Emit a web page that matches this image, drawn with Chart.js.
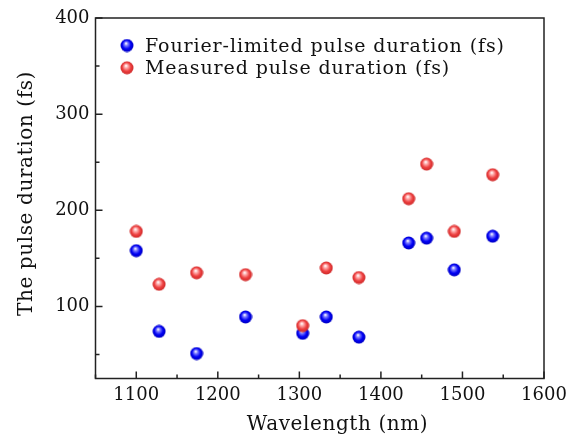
<!DOCTYPE html>
<html>
<head>
<meta charset="utf-8">
<script src="https://cdn.jsdelivr.net/npm/chart.js@4.4.1/dist/chart.umd.min.js"></script>
<style>
  html, body { margin: 0; padding: 0; background: #fff; }
  #wrap { width: 582px; height: 439px; }
</style>
</head>
<body>
<div id="wrap"><canvas id="chartPulse"></canvas></div>
<script>
var wavelengths = [1100, 1128, 1174, 1234, 1304, 1333, 1373, 1434, 1456, 1490, 1537];
var fourierLimited = [158, 74, 51, 89, 72, 89, 68, 166, 171, 138, 173];
var measured = [178, 123, 135, 133, 80, 140, 130, 212, 248, 178, 237];

var seriesLabels = ["Fourier-limited pulse duration (fs)", "Measured pulse duration (fs)"];
var xTitle = "Wavelength (nm)";
var yTitle = "The pulse duration (fs)";

var serif = "'DejaVu Serif', 'Liberation Serif', serif";

function makeBall(light, base, dark) {
    var c = document.createElement('canvas');
    c.width = 14;
    c.height = 14;
    var g = c.getContext('2d');
    var grad = g.createRadialGradient(6, 4.8, 0.3, 7, 7, 7);
    grad.addColorStop(0, '#ffffff');
    grad.addColorStop(0.22, light);
    grad.addColorStop(0.6, base);
    grad.addColorStop(1, dark);
    g.fillStyle = grad;
    g.beginPath();
    g.arc(7, 7, 6.5, 0, 2 * Math.PI);
    g.fill();
    return c;
}

var blueBall = makeBall('#8080ff', '#0000f5', '#0000b8');
var redBall = makeBall('#ffb0b0', '#ee4040', '#c82626');

function toPoints(xs, ys) {
    return xs.map(function (x, i) { return { x: x, y: ys[i] }; });
}

// inward ticks, box frame, legend and axis titles
var decor = {
    id: 'decor',
    afterDraw: function (chart) {
        var ctx = chart.ctx;
        var a = chart.chartArea;
        var xs = chart.scales.x;
        var ys = chart.scales.y;
        ctx.save();
        ctx.strokeStyle = '#222';
        ctx.lineWidth = 1.5;
        ctx.strokeRect(a.left, a.top, a.right - a.left, a.bottom - a.top);

        ctx.beginPath();
        xs.ticks.forEach(function (t) {
            if (t.value % 50 !== 0) return;
            var px = xs.getPixelForValue(t.value);
            var len = t.value % 100 === 0 ? 7 : 4;
            ctx.moveTo(px, a.bottom);
            ctx.lineTo(px, a.bottom - len);
        });
        ys.ticks.forEach(function (t) {
            if (t.value % 50 !== 0) return;
            var py = ys.getPixelForValue(t.value);
            var len = t.value % 100 === 0 ? 7 : 4;
            ctx.moveTo(a.left, py);
            ctx.lineTo(a.left + len, py);
        });
        ctx.stroke();

        // legend
        var balls = [blueBall, redBall];
        ctx.font = "19px " + serif;
        ctx.letterSpacing = '0.9px';
        ctx.fillStyle = '#111';
        ctx.textAlign = 'left';
        ctx.textBaseline = 'alphabetic';
        seriesLabels.forEach(function (label, i) {
            var cy = 45.5 + i * 22.3;
            ctx.drawImage(balls[i], 127 - 7, cy - 7);
            ctx.fillText(label, 145, cy + 6.5);
        });

        // axis titles
        ctx.font = "20px " + serif;
        ctx.letterSpacing = '0.6px';
        ctx.textAlign = 'center';
        ctx.fillText(xTitle, 337.5, 430);
        ctx.translate(32, 193.5);
        ctx.rotate(-Math.PI / 2);
        ctx.fillText(yTitle, 0, 0);
        ctx.restore();
    }
};

var ctx = document.getElementById('chartPulse').getContext('2d');
var pulseChart = new Chart(ctx, {
    type: 'scatter',
    data: {
        datasets: [{
            label: seriesLabels[0],
            data: toPoints(wavelengths, fourierLimited),
            pointStyle: blueBall,
            order: 1
        }, {
            label: seriesLabels[1],
            data: toPoints(wavelengths, measured),
            pointStyle: redBall,
            order: 0
        }]
    },
    options: {
        responsive: true,
        maintainAspectRatio: false,
        animation: false,
        layout: { padding: { top: 18, right: 38, left: 0, bottom: 0 } },
        plugins: {
            legend: { display: false },
            tooltip: { enabled: false }
        },
        scales: {
            x: {
                type: 'linear',
                min: 1050,
                max: 1600,
                grid: { display: false, drawTicks: false },
                border: { display: false },
                ticks: {
                    stepSize: 50,
                    autoSkip: false,
                    maxRotation: 0,
                    padding: 6,
                    color: '#111',
                    font: { family: serif, size: 18 },
                    callback: function (v) { return v % 100 === 0 ? v : ''; }
                },
                afterFit: function (scale) { scale.height = 60.5; }
            },
            y: {
                type: 'linear',
                min: 25,
                max: 400,
                grid: { display: false, drawTicks: false },
                border: { display: false },
                ticks: {
                    stepSize: 50,
                    autoSkip: false,
                    padding: 6,
                    color: '#111',
                    font: { family: serif, size: 18 },
                    callback: function (v) { return v % 100 === 0 ? v : ''; }
                },
                afterFit: function (scale) { scale.width = 95.5; }
            }
        }
    },
    plugins: [decor]
});
</script>
</body>
</html>
